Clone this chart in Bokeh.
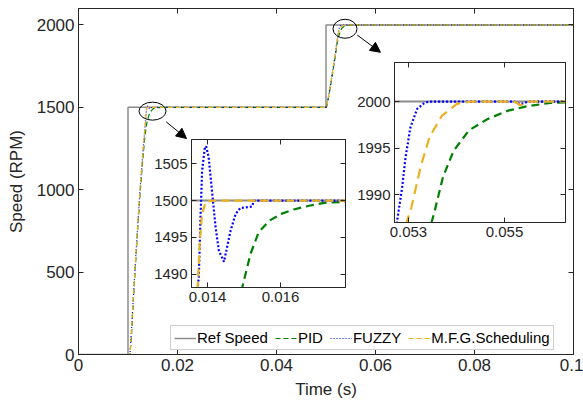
from bokeh.plotting import figure
from bokeh.models import (Range1d, LinearAxis, FixedTicker, Legend, LegendItem,
                          Arrow, NormalHead, GridBox, CustomLabelingPolicy)
from bokeh.embed import file_html
from bokeh.resources import INLINE

# ---------------- data ----------------
ref_t = [0, 0.01, 0.01, 0.05, 0.05, 0.1]
ref_speed = [0, 0, 1500, 1500, 2000, 2000]

pid_t = [0, 0.0104, 0.0107, 0.0110, 0.0115, 0.0120, 0.0125, 0.0130, 0.0134, 0.0138,
         0.0142, 0.0146, 0.01495, 0.01518, 0.0154, 0.0157, 0.01602, 0.01636, 0.01678,
         0.0172, 0.01764, 0.0185, 0.0200, 0.0501, 0.0505, 0.0510, 0.0515, 0.0520,
         0.0523, 0.0526, 0.0529, 0.0532, 0.05348, 0.05353, 0.05372, 0.05394, 0.05426,
         0.05464, 0.05506, 0.05547, 0.05596, 0.0565, 0.0580, 0.1]
pid_speed = [0, 0, 110, 290, 540, 780, 1000, 1190, 1320, 1405,
             1450, 1475, 1488.2, 1492.8, 1495.7, 1497.3, 1498.2, 1498.8, 1499.3,
             1499.7, 1499.8, 1499.95, 1500, 1500, 1560, 1645, 1740, 1835,
             1895, 1935, 1962, 1980, 1987, 1987.9, 1991.9, 1994.7, 1996.9,
             1998.1, 1999.0, 1999.5, 1999.86, 1999.95, 2000, 2000]

fuzzy_t = [0, 0.0104, 0.0107, 0.01117, 0.0115, 0.01198, 0.0125, 0.01293, 0.0134,
           0.01373, 0.01376, 0.01381, 0.01385, 0.01392, 0.01396, 0.01403, 0.01413,
           0.01422, 0.01431, 0.01445, 0.01463, 0.01477, 0.0149, 0.01522, 0.01527,
           0.0160, 0.0501, 0.0505, 0.0510, 0.0515, 0.0520, 0.0523, 0.0525, 0.05265,
           0.05276, 0.05287, 0.05294, 0.05304, 0.05318, 0.05332, 0.05342, 0.0552,
           0.05533, 0.0555, 0.1]
fuzzy_speed = [0, 0, 150, 389, 560, 796, 1030, 1198, 1370,
               1488.2, 1489.6, 1498.2, 1504, 1507.0, 1507.4, 1505.9, 1500.9,
               1496.4, 1493.2, 1491.7, 1495.9, 1498.2, 1499.0, 1499.2, 1500,
               1500, 1500, 1565, 1655, 1750, 1850, 1920, 1960, 1980,
               1987, 1990.8, 1994.0, 1997.2, 1999.2, 1999.8, 2000, 2000,
               1999.7, 2000, 2000]

mfg_t = [0, 0.0104, 0.0107, 0.01117, 0.0115, 0.01198, 0.0125, 0.01293, 0.0134,
         0.01373, 0.01379, 0.01385, 0.01395, 0.0141, 0.0160, 0.0501, 0.0505, 0.0510,
         0.0515, 0.0520, 0.0523, 0.0525, 0.0527, 0.05296, 0.05306, 0.05326, 0.05344,
         0.0537, 0.05401, 0.05429, 0.0552, 0.05533, 0.0555, 0.1]
mfg_speed = [0, 0, 150, 389, 560, 796, 1030, 1198, 1370,
             1488.2, 1494.6, 1498.2, 1499.8, 1500, 1500, 1500, 1565, 1655,
             1750, 1848, 1915, 1950, 1975, 1987, 1988.6, 1993.1, 1996.2,
             1998.5, 1999.75, 2000, 2000, 1999.6, 2000, 2000]

series_names = ["Ref Speed", "PID", "FUZZY", "M.F.G.Scheduling"]

x_ticks = [0, 0.02, 0.04, 0.06, 0.08, 0.1]
x_tick_labels = ["0", "0.02", "0.04", "0.06", "0.08", "0.1"]
y_ticks = [0, 500, 1000, 1500, 2000]

in1_x_ticks = [0.014, 0.016]
in1_x_labels = ["0.014", "0.016"]
in1_y_ticks = [1490, 1495, 1500, 1505]
in2_x_ticks = [0.053, 0.055]
in2_x_labels = ["0.053", "0.055"]
in2_y_ticks = [1990, 1995, 2000]

in1_xlim = (0.01356, 0.01778)
in1_ylim = (1488.2, 1508.3)
in2_xlim = (0.05271, 0.05627)
in2_ylim = (1987.0, 2004.2)

# annotation anchors (data coords of main axes)
circle_x = [0.01495, 0.05384]
circle_y = [1477, 1977]
arrow_start = [(0.01772, 1412), (0.0563, 1939)]
arrow_end = [(0.02182, 1311), (0.06101, 1834)]

# ---------------- styles ----------------
FONT = "Liberation Sans"
AX = "#262626"
C_REF, C_PID, C_FUZ, C_MFG = "#8c8c8c", "#008000", "#0000ff", "#edb120"


def style_axes(fig, xt, xl, yt, fs):
    fig.xaxis.ticker = FixedTicker(ticks=xt)
    if xl is not None:
        fig.xaxis.major_label_overrides = {t: l for t, l in zip(xt, xl)}
    fig.yaxis.ticker = FixedTicker(ticks=yt)
    for ax in fig.xaxis + fig.yaxis:
        ax.major_tick_in = 5
        ax.major_tick_out = 0
        ax.minor_tick_line_color = None
        ax.axis_line_color = AX
        ax.major_tick_line_color = AX
        ax.major_label_text_color = AX
        ax.major_label_text_font = FONT
        ax.major_label_text_font_size = fs
        ax.axis_label_text_font = FONT
        ax.axis_label_text_font_style = "normal"
        ax.axis_label_text_color = AX
        ax.major_label_standoff = 4
    fig.xgrid.visible = False
    fig.ygrid.visible = False
    # mirrored ticks on top / right (no labels drawn)
    for loc, tk in (("above", xt), ("right", yt)):
        ax = LinearAxis(ticker=FixedTicker(ticks=tk), major_tick_in=5, major_tick_out=0,
                        minor_tick_line_color=None, axis_line_color=AX,
                        major_tick_line_color=AX,
                        major_label_policy=CustomLabelingPolicy(code="return new Set()"),
                        major_label_text_font_size="1px", major_label_standoff=0)
        fig.add_layout(ax, loc)
    fig.outline_line_color = AX


def draw_series(fig, w_ref, w, dash, dot, mdash):
    r0 = fig.line(ref_t, ref_speed, line_color=C_REF, line_width=w_ref)
    r1 = fig.line(pid_t, pid_speed, line_color=C_PID, line_width=w, line_dash=dash)
    r2 = fig.line(fuzzy_t, fuzzy_speed, line_color=C_FUZ, line_width=w, line_dash=dot)
    r3 = fig.line(mfg_t, mfg_speed, line_color=C_MFG, line_width=w, line_dash=mdash)
    return [r0, r1, r2, r3]


# ---------------- main figure ----------------
p = figure(width=583, height=407, x_range=Range1d(0, 0.1), y_range=Range1d(0, 2100),
           output_backend="svg", toolbar_location=None,
           min_border_left=78, min_border_right=10, min_border_top=8,
           min_border_bottom=53, x_axis_label="Time (s)", y_axis_label="Speed (RPM)")
style_axes(p, x_ticks, x_tick_labels, y_ticks, "17px")
for ax in (p.below[0], p.left[0]):
    ax.axis_label_text_font_size = "17px"
p.below[0].axis_label_standoff = 6
p.left[0].axis_label_standoff = 8

rs = draw_series(p, 1.5, 1.2, "5 3", "1 2", "5 3")

p.ellipse(x=circle_x, y=circle_y, width=[27, 24], height=[18, 19], width_units="screen",
          height_units="screen", fill_alpha=0, line_color="black", line_width=1)
for (xs, ys), (xe, ye) in zip(arrow_start, arrow_end):
    p.add_layout(Arrow(end=NormalHead(size=10, fill_color="black", line_color="black"),
                       x_start=xs, y_start=ys, x_end=xe, y_end=ye,
                       line_color="black", line_width=1))

legend = Legend(items=[LegendItem(label=n, renderers=[r]) for n, r in zip(series_names, rs)],
                orientation="horizontal", location=(92, 4))
legend.label_text_font = FONT
legend.label_text_font_size = "15px"
legend.label_text_color = "black"
legend.glyph_width = 22
legend.glyph_height = 16
legend.label_standoff = 1
legend.spacing = 7
legend.padding = 3
legend.margin = 0
legend.label_height = 16
legend.border_line_color = "#a0a0a0"
legend.background_fill_alpha = 1
p.add_layout(legend)

# ---------------- insets ----------------
ins1 = figure(width=206, height=182, x_range=Range1d(*in1_xlim), y_range=Range1d(*in1_ylim),
              output_backend="svg", toolbar_location=None,
              min_border_left=44, min_border_right=8, min_border_top=8, min_border_bottom=26)
ins1.border_fill_alpha = 0
style_axes(ins1, in1_x_ticks, in1_x_labels, in1_y_ticks, "15px")
draw_series(ins1, 2, 2.2, "8 5", "2 2", "8 5")

ins2 = figure(width=223, height=194, x_range=Range1d(*in2_xlim), y_range=Range1d(*in2_ylim),
              output_backend="svg", toolbar_location=None,
              min_border_left=44, min_border_right=8, min_border_top=8, min_border_bottom=26)
ins2.border_fill_alpha = 0
style_axes(ins2, in2_x_ticks, in2_x_labels, in2_y_ticks, "15px")
draw_series(ins2, 2, 2.2, "8 5", "2 2", "10 6")

grid = GridBox(children=[(p, 0, 0, 5, 5), (ins1, 2, 1, 2, 2), (ins2, 1, 2, 2, 2)],
               rows=["54px", "77px", "117px", "65px", "94px"],
               cols=["147px", "203px", "3px", "220px", "10px"],
               spacing=0)

open("out.html", "w").write(file_html(grid, INLINE))
